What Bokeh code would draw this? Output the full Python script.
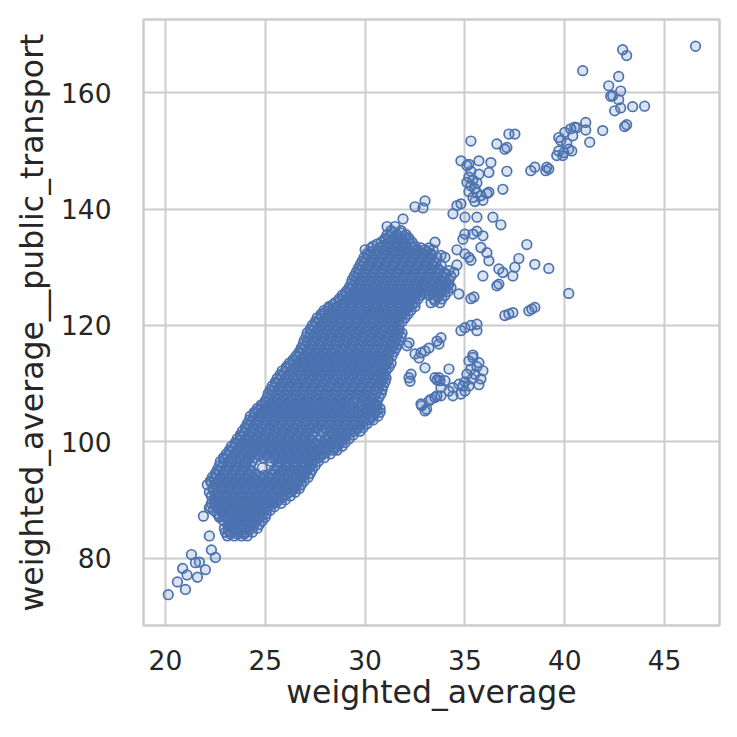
from bokeh.plotting import figure
from bokeh.models import FixedTicker, Range1d
from bokeh.embed import file_html
from bokeh.resources import INLINE

# ---- data ----
x_ticks = [20, 25, 30, 35, 40, 45]
y_ticks = [80, 100, 120, 140, 160]
x_label = "weighted_average"
y_label = "weighted_average__public_transport"

tail_points = [(20.14, 73.7), (20.6, 75.9), (21.0, 74.6), (20.86, 78.2), (21.08, 77.1),
               (21.6, 76.7), (21.3, 80.6), (21.5, 79.2), (21.7, 79.3), (22.0, 78.0),
               (22.3, 81.4), (22.5, 80.1), (22.2, 83.8), (21.9, 87.2), (22.2, 88.6),
               (22.7, 87.2)]

# dense main band, one row of x values per y level
core_rows = [
    (83.8, [23.1, 23.45, 23.8, 24.1]),
    (84.45, [23.0, 23.3, 23.65, 24.0, 24.35]),
    (85.1, [22.95, 23.35, 23.75, 24.15, 24.6]),
    (85.75, [23.15, 23.55, 23.9, 24.3, 24.7]),
    (86.4, [22.9, 23.3, 23.7, 24.05, 24.45, 24.85]),
    (87.0, [22.7, 23.1, 23.5, 23.9, 24.25, 24.65, 25.0]),
    (87.6, [22.6, 23.0, 23.4, 23.8, 24.2, 24.6, 25.05]),
    (88.2, [22.4, 22.8, 23.2, 23.6, 24.0, 24.4, 24.85, 25.25]),
    (88.8, [22.25, 22.6, 23.0, 23.45, 23.85, 24.25, 24.65, 25.05, 25.45]),
    (89.4, [22.3, 22.65, 23.05, 23.45, 23.85, 24.25, 24.65, 25.05, 25.45, 25.8]),
    (90.0, [22.45, 22.85, 23.25, 23.65, 24.05, 24.45, 24.85, 25.25, 25.65, 26.0]),
    (90.65, [22.3, 22.7, 23.1, 23.5, 23.9, 24.3, 24.7, 25.1, 25.5, 25.9, 26.25]),
    (91.3, [22.2, 22.6, 23.0, 23.4, 23.8, 24.2, 24.6, 25.0, 25.4, 25.8, 26.2, 26.5]),
    (91.95, [22.4, 22.8, 23.2, 23.6, 24.0, 24.4, 24.8, 25.2, 25.6, 26.0, 26.4, 26.7]),
    (92.6, [22.1, 22.45, 22.85, 23.25, 23.65, 24.05, 24.45, 24.85, 25.25, 25.65, 26.05, 26.45, 26.8]),
    (93.25, [22.25, 22.65, 23.05, 23.45, 23.85, 24.25, 24.65, 25.05, 25.45, 25.85, 26.25, 26.65, 26.95]),
    (93.9, [22.35, 22.75, 23.15, 23.55, 23.95, 24.35, 24.75, 25.15, 25.55, 25.95, 26.35, 26.75, 27.15]),
    (94.55, [22.5, 22.9, 23.3, 23.7, 24.1, 24.5, 25.3, 25.7, 26.1, 26.5, 26.9, 27.25]),
    (95.2, [22.6, 23.0, 23.4, 23.8, 24.2, 25.45, 25.85, 26.25, 26.65, 27.05, 27.35]),
    (95.9, [22.7, 23.1, 23.5, 23.9, 24.25, 25.6, 26.0, 26.4, 26.8, 27.2, 27.5]),
    (96.6, [22.75, 23.15, 23.55, 23.95, 24.35, 25.3, 25.7, 26.1, 26.5, 26.9, 27.3, 27.65]),
    (97.25, [22.9, 23.3, 23.7, 24.1, 24.5, 24.9, 25.25, 25.65, 26.05, 26.45, 26.85, 27.25, 27.65, 27.95]),
    (97.9, [23.05, 23.45, 23.85, 24.25, 24.65, 25.05, 25.45, 25.85, 26.25, 26.65, 27.05, 27.45, 27.85, 28.25]),
    (98.55, [23.2, 23.6, 24.0, 24.4, 24.8, 25.2, 25.6, 26.0, 26.4, 26.8, 27.2, 27.6, 28.0, 28.4, 28.6]),
    (99.2, [23.3, 23.7, 24.1, 24.5, 24.9, 25.3, 25.7, 26.1, 26.5, 26.9, 27.3, 27.7, 28.1, 28.5, 28.85]),
    (99.85, [23.5, 23.9, 24.3, 24.7, 25.1, 25.5, 25.9, 26.3, 26.7, 27.1, 27.5, 27.9, 28.3, 28.7, 29.0]),
    (100.5, [23.6, 24.0, 24.4, 24.8, 25.2, 25.6, 26.0, 26.4, 26.8, 27.2, 28.0, 28.4, 28.8, 29.2]),
    (101.15, [23.75, 24.15, 24.55, 24.95, 25.35, 25.75, 26.15, 26.55, 26.95, 27.35, 28.2, 28.6, 29.0, 29.4]),
    (101.8, [23.85, 24.25, 24.65, 25.05, 25.45, 25.85, 26.25, 26.65, 27.05, 27.45, 27.85, 28.25, 28.65, 29.05, 29.45, 29.75]),
    (102.45, [24.0, 24.4, 24.8, 25.2, 25.6, 26.0, 26.4, 26.8, 27.2, 27.6, 28.0, 28.4, 28.8, 29.2, 29.6, 29.9]),
    (103.1, [24.1, 24.5, 24.9, 25.3, 25.7, 26.1, 26.5, 26.9, 27.3, 27.7, 28.1, 28.5, 28.9, 29.3, 29.7, 30.1]),
    (103.75, [24.2, 24.6, 25.0, 25.4, 25.8, 26.2, 26.6, 27.0, 27.4, 27.8, 28.2, 28.6, 29.0, 29.4, 29.8, 30.2, 30.4]),
    (104.4, [24.25, 24.65, 25.05, 25.45, 25.85, 26.25, 26.65, 27.05, 27.45, 27.85, 28.25, 28.65, 29.05, 29.45, 29.85, 30.25, 30.65]),
    (105.05, [24.45, 24.85, 25.25, 25.65, 26.05, 26.45, 26.85, 27.25, 27.65, 28.05, 28.45, 28.85, 29.25, 29.65, 30.05, 30.45, 30.75]),
    (105.7, [24.6, 25.0, 25.4, 25.8, 26.2, 26.6, 27.0, 27.4, 27.8, 28.2, 28.6, 29.0, 29.5, 30.0, 30.4, 30.75]),
    (106.35, [24.8, 25.2, 25.6, 26.0, 26.4, 26.8, 27.2, 27.6, 28.0, 28.4, 28.8, 29.2, 29.8, 30.2, 30.6]),
    (107.0, [25.0, 25.4, 25.8, 26.2, 26.6, 27.0, 27.4, 27.8, 28.2, 28.6, 29.0, 29.4, 29.8, 30.2, 30.6]),
    (107.65, [25.1, 25.5, 25.9, 26.3, 26.7, 27.1, 27.5, 27.9, 28.3, 28.7, 29.1, 29.5, 29.9, 30.3, 30.7]),
    (108.3, [25.15, 25.55, 25.95, 26.35, 26.75, 27.15, 27.55, 27.95, 28.35, 28.75, 29.15, 29.55, 29.95, 30.35, 30.8]),
    (108.95, [25.25, 25.65, 26.05, 26.45, 26.85, 27.25, 27.65, 28.05, 28.45, 28.85, 29.25, 29.65, 30.05, 30.45, 30.85]),
    (109.6, [25.35, 25.75, 26.15, 26.55, 26.95, 27.35, 27.75, 28.15, 28.55, 28.95, 29.35, 29.75, 30.15, 30.55, 30.9]),
    (110.25, [25.5, 25.9, 26.3, 26.7, 27.1, 27.5, 27.9, 28.3, 28.7, 29.1, 29.5, 29.9, 30.3, 30.7, 31.0]),
    (110.9, [25.6, 26.0, 26.4, 26.8, 27.2, 27.6, 28.0, 28.4, 28.8, 29.2, 29.6, 30.0, 30.4, 30.8, 31.05]),
    (111.55, [25.75, 26.15, 26.55, 26.95, 27.35, 27.75, 28.15, 28.55, 28.95, 29.35, 29.75, 30.15, 30.55, 30.95]),
    (112.2, [25.85, 26.3, 26.7, 27.1, 27.5, 27.9, 28.3, 28.7, 29.1, 29.5, 29.9, 30.3, 30.7, 31.05]),
    (112.85, [26.05, 26.45, 26.85, 27.25, 27.65, 28.05, 28.45, 28.85, 29.25, 29.65, 30.05, 30.45, 30.85, 31.2]),
    (113.5, [26.2, 26.6, 27.0, 27.4, 27.8, 28.2, 28.6, 29.0, 29.4, 29.8, 30.2, 30.6, 31.0, 31.3]),
    (114.15, [26.4, 26.8, 27.2, 27.6, 28.0, 28.4, 28.8, 29.2, 29.6, 30.0, 30.4, 30.8, 31.15]),
    (114.8, [26.55, 26.95, 27.35, 27.75, 28.15, 28.55, 28.95, 29.35, 29.75, 30.15, 30.55, 30.95, 31.35]),
    (115.45, [26.7, 27.1, 27.5, 27.9, 28.3, 28.7, 29.1, 29.5, 29.9, 30.3, 30.7, 31.1, 31.45]),
    (116.1, [26.8, 27.2, 27.6, 28.0, 28.4, 28.8, 29.2, 29.6, 30.0, 30.4, 30.8, 31.2, 31.55]),
    (116.75, [26.9, 27.3, 27.7, 28.1, 28.5, 28.9, 29.3, 29.7, 30.1, 30.5, 30.9, 31.3, 31.65]),
    (117.4, [26.95, 27.35, 27.75, 28.15, 28.55, 28.95, 29.35, 29.75, 30.15, 30.55, 30.95, 31.35, 31.7]),
    (118.05, [27.05, 27.45, 27.85, 28.25, 28.65, 29.05, 29.45, 29.85, 30.25, 30.65, 31.05, 31.45, 31.8]),
    (118.7, [27.1, 27.5, 27.9, 28.3, 28.7, 29.1, 29.5, 29.9, 30.3, 30.7, 31.1, 31.5, 31.85]),
    (119.35, [27.25, 27.65, 28.05, 28.45, 28.85, 29.25, 29.65, 30.05, 30.45, 30.85, 31.25, 31.65]),
    (120.0, [27.35, 27.75, 28.15, 28.55, 28.95, 29.35, 29.75, 30.15, 30.55, 30.95, 31.35, 31.7]),
    (120.65, [27.5, 27.9, 28.3, 28.7, 29.1, 29.5, 29.9, 30.3, 30.7, 31.1, 31.5, 31.85]),
    (121.3, [27.6, 28.0, 28.4, 28.8, 29.2, 29.6, 30.0, 30.4, 30.8, 31.2, 31.6, 32.0]),
    (121.95, [27.8, 28.2, 28.6, 29.0, 29.4, 29.8, 30.2, 30.6, 31.0, 31.4, 31.8, 32.15]),
    (122.6, [27.95, 28.35, 28.75, 29.15, 29.55, 29.95, 30.35, 30.75, 31.15, 31.55, 31.95, 32.3]),
    (123.25, [28.2, 28.6, 29.0, 29.4, 29.8, 30.2, 30.6, 31.0, 31.4, 31.8, 32.2, 32.5]),
    (123.9, [28.5, 28.9, 29.3, 29.7, 30.1, 30.5, 30.9, 31.3, 31.7, 32.1, 32.5, 33.3, 33.75]),
    (124.55, [28.7, 29.1, 29.5, 29.9, 30.3, 30.7, 31.1, 31.5, 31.9, 32.3, 32.65, 33.45, 33.85]),
    (125.2, [28.85, 29.25, 29.65, 30.05, 30.45, 30.85, 31.25, 31.65, 32.05, 32.45, 32.8, 33.2, 33.6, 34.0]),
    (125.85, [29.05, 29.45, 29.85, 30.25, 30.65, 31.05, 31.45, 31.85, 32.25, 32.65, 33.0, 33.4, 33.8, 34.15]),
    (126.5, [29.2, 29.6, 30.0, 30.4, 30.8, 31.2, 31.6, 32.0, 32.4, 32.8, 33.2, 33.6, 34.0, 34.3]),
    (127.15, [29.3, 29.7, 30.1, 30.5, 30.9, 31.3, 31.7, 32.1, 32.5, 32.9, 33.3, 33.7, 34.05]),
    (127.8, [29.35, 29.75, 30.15, 30.55, 30.95, 31.35, 31.75, 32.15, 32.55, 32.95, 33.35, 33.75, 34.2]),
    (128.45, [29.45, 29.85, 30.25, 30.65, 31.05, 31.45, 31.85, 32.25, 32.65, 33.05, 33.45, 33.85, 34.3]),
    (129.1, [29.55, 29.95, 30.35, 30.75, 31.15, 31.55, 31.95, 32.35, 32.75, 33.15, 33.55, 33.95, 34.45]),
    (129.75, [29.65, 30.05, 30.45, 30.85, 31.25, 31.65, 32.05, 32.45, 32.85, 33.25, 33.65]),
    (130.4, [29.75, 30.15, 30.55, 30.95, 31.35, 31.75, 32.15, 32.55, 32.95, 33.35, 33.8, 34.6]),
    (131.05, [29.85, 30.25, 30.65, 31.05, 31.45, 31.85, 32.25, 32.65, 33.05, 33.45]),
    (131.7, [29.95, 30.35, 30.75, 31.15, 31.55, 31.95, 32.35, 32.75, 33.15, 33.6, 34.0]),
    (132.35, [30.1, 30.5, 30.9, 31.3, 31.7, 32.1, 32.5, 32.9, 33.3]),
    (133.0, [30.0, 30.6, 31.0, 31.4, 31.8, 32.2, 32.6, 33.0, 33.4]),
    (133.65, [30.4, 30.85, 31.25, 31.65, 32.05, 32.5]),
    (134.3, [30.8, 31.2, 31.6, 32.0, 32.35, 33.5]),
    (134.95, [31.0, 31.4, 31.8, 32.2]),
    (135.6, [31.1, 31.6, 32.05]),
    (136.3, [31.3, 31.8]),
    (137.0, [31.1, 31.5]),
    (138.3, [31.9]),
]

# further points of the same band, lying between the rows above
core_rows_between = [
    (84.13, [23.25, 23.6, 23.95]),
    (84.78, [23.15, 23.5, 23.8, 24.2]),
    (85.43, [23.15, 23.55, 23.95, 24.4]),
    (86.08, [23.35, 23.7, 24.1, 24.5]),
    (86.73, [23.1, 23.5, 23.9, 24.25, 24.65]),
    (87.33, [22.9, 23.3, 23.7, 24.1, 24.45, 24.85]),
    (87.93, [22.8, 23.2, 23.6, 24.0, 24.4, 24.8]),
    (88.53, [22.6, 23.0, 23.4, 23.8, 24.2, 24.6, 25.05]),
    (89.13, [22.45, 22.8, 23.2, 23.65, 24.05, 24.45, 24.85, 25.25]),
    (89.73, [22.5, 22.85, 23.25, 23.65, 24.05, 24.45, 24.85, 25.25, 25.6]),
    (90.33, [22.65, 23.05, 23.45, 23.85, 24.25, 24.65, 25.05, 25.45, 25.85]),
    (90.98, [22.5, 22.9, 23.3, 23.7, 24.1, 24.5, 24.9, 25.3, 25.7, 26.05]),
    (91.63, [22.4, 22.8, 23.2, 23.6, 24.0, 24.4, 24.8, 25.2, 25.6, 26.0, 26.35]),
    (92.28, [22.6, 23.0, 23.4, 23.8, 24.2, 24.6, 25.0, 25.4, 25.8, 26.2, 26.55]),
    (92.93, [22.3, 22.65, 23.05, 23.45, 23.85, 24.25, 24.65, 25.05, 25.45, 25.85, 26.25, 26.6]),
    (93.58, [22.45, 22.85, 23.25, 23.65, 24.05, 24.45, 24.85, 25.25, 25.65, 26.05, 26.45, 26.8]),
    (94.23, [22.55, 22.95, 23.35, 23.75, 24.15, 24.55, 24.95, 25.35, 25.75, 26.15, 26.55, 26.95]),
    (94.88, [22.7, 23.1, 23.5, 23.9, 24.3, 25.5, 25.9, 26.3, 26.7, 27.05]),
    (95.53, [22.8, 23.2, 23.6, 24.0, 24.85, 25.65, 26.05, 26.45, 26.85, 27.2]),
    (96.23, [22.9, 23.3, 23.7, 24.05, 25.8, 26.2, 26.6, 27.0, 27.35]),
    (96.93, [22.95, 23.35, 23.75, 24.15, 25.5, 25.9, 26.3, 26.7, 27.1, 27.45]),
    (97.58, [23.1, 23.5, 23.9, 24.3, 24.7, 25.05, 25.45, 25.85, 26.25, 26.65, 27.05, 27.45, 27.8]),
    (98.23, [23.25, 23.65, 24.05, 24.45, 24.85, 25.25, 25.65, 26.05, 26.45, 26.85, 27.25, 27.65, 28.05]),
    (98.88, [23.4, 23.8, 24.2, 24.6, 25.0, 25.4, 25.8, 26.2, 26.6, 27.0, 27.4, 27.8, 28.2, 28.5]),
    (99.53, [23.5, 23.9, 24.3, 24.7, 25.1, 25.5, 25.9, 26.3, 26.7, 27.1, 27.5, 27.9, 28.3, 28.65]),
    (100.18, [23.7, 24.1, 24.5, 24.9, 25.3, 25.7, 26.1, 26.5, 26.9, 27.3, 27.7, 28.1, 28.5, 28.85]),
    (100.83, [23.8, 24.2, 24.6, 25.0, 25.4, 25.8, 26.2, 26.6, 27.0, 28.2, 28.6, 29.0]),
    (101.48, [23.95, 24.35, 24.75, 25.15, 25.55, 25.95, 26.35, 26.75, 27.15, 28.4, 28.8, 29.2]),
    (102.13, [24.05, 24.45, 24.85, 25.25, 25.65, 26.05, 26.45, 26.85, 27.25, 27.65, 28.05, 28.45, 28.85, 29.25, 29.6]),
    (102.78, [24.2, 24.6, 25.0, 25.4, 25.8, 26.2, 26.6, 27.0, 27.4, 27.8, 28.2, 28.6, 29.0, 29.4, 29.75]),
    (103.43, [24.3, 24.7, 25.1, 25.5, 25.9, 26.3, 26.7, 27.1, 27.5, 27.9, 28.3, 28.7, 29.1, 29.5, 29.9]),
    (104.08, [24.4, 24.8, 25.2, 25.6, 26.0, 26.4, 26.8, 27.2, 27.6, 28.0, 28.4, 28.8, 29.2, 29.6, 30.0, 30.3]),
    (104.73, [24.45, 24.85, 25.25, 25.65, 26.05, 26.45, 26.85, 27.25, 27.65, 28.05, 28.45, 28.85, 29.25, 29.65, 30.05, 30.45]),
    (105.38, [24.65, 25.05, 25.45, 25.85, 26.25, 26.65, 27.05, 27.45, 27.85, 28.25, 28.65, 29.05, 29.45, 29.85, 30.25, 30.6]),
    (106.03, [24.8, 25.2, 25.6, 26.0, 26.4, 26.8, 27.2, 27.6, 28.0, 28.4, 28.8, 29.25, 29.75, 30.2, 30.55]),
    (106.68, [25.0, 25.4, 25.8, 26.2, 26.6, 27.0, 27.4, 27.8, 28.2, 28.6, 29.0, 30.0, 30.4]),
    (107.33, [25.2, 25.6, 26.0, 26.4, 26.8, 27.2, 27.6, 28.0, 28.4, 28.8, 29.2, 29.6, 30.0, 30.4]),
    (107.98, [25.3, 25.7, 26.1, 26.5, 26.9, 27.3, 27.7, 28.1, 28.5, 28.9, 29.3, 29.7, 30.1, 30.5]),
    (108.63, [25.35, 25.75, 26.15, 26.55, 26.95, 27.35, 27.75, 28.15, 28.55, 28.95, 29.35, 29.75, 30.15, 30.6]),
    (109.28, [25.45, 25.85, 26.25, 26.65, 27.05, 27.45, 27.85, 28.25, 28.65, 29.05, 29.45, 29.85, 30.25, 30.65]),
    (109.93, [25.55, 25.95, 26.35, 26.75, 27.15, 27.55, 27.95, 28.35, 28.75, 29.15, 29.55, 29.95, 30.35, 30.75]),
    (110.58, [25.7, 26.1, 26.5, 26.9, 27.3, 27.7, 28.1, 28.5, 28.9, 29.3, 29.7, 30.1, 30.5, 30.85]),
    (111.23, [25.8, 26.2, 26.6, 27.0, 27.4, 27.8, 28.2, 28.6, 29.0, 29.4, 29.8, 30.2, 30.6, 30.95]),
    (111.88, [25.95, 26.35, 26.75, 27.15, 27.55, 27.95, 28.35, 28.75, 29.15, 29.55, 29.95, 30.35, 30.75]),
    (112.53, [26.05, 26.5, 26.9, 27.3, 27.7, 28.1, 28.5, 28.9, 29.3, 29.7, 30.1, 30.5, 30.9]),
    (113.18, [26.25, 26.65, 27.05, 27.45, 27.85, 28.25, 28.65, 29.05, 29.45, 29.85, 30.25, 30.65, 31.05]),
    (113.83, [26.4, 26.8, 27.2, 27.6, 28.0, 28.4, 28.8, 29.2, 29.6, 30.0, 30.4, 30.8, 31.15]),
    (114.48, [26.6, 27.0, 27.4, 27.8, 28.2, 28.6, 29.0, 29.4, 29.8, 30.2, 30.6, 31.0]),
    (115.13, [26.75, 27.15, 27.55, 27.95, 28.35, 28.75, 29.15, 29.55, 29.95, 30.35, 30.75, 31.15]),
    (115.78, [26.9, 27.3, 27.7, 28.1, 28.5, 28.9, 29.3, 29.7, 30.1, 30.5, 30.9, 31.3]),
    (116.43, [27.0, 27.4, 27.8, 28.2, 28.6, 29.0, 29.4, 29.8, 30.2, 30.6, 31.0, 31.4]),
    (117.08, [27.1, 27.5, 27.9, 28.3, 28.7, 29.1, 29.5, 29.9, 30.3, 30.7, 31.1, 31.5]),
    (117.73, [27.15, 27.55, 27.95, 28.35, 28.75, 29.15, 29.55, 29.95, 30.35, 30.75, 31.15, 31.55]),
    (118.38, [27.25, 27.65, 28.05, 28.45, 28.85, 29.25, 29.65, 30.05, 30.45, 30.85, 31.25, 31.6]),
    (119.03, [27.3, 27.7, 28.1, 28.5, 28.9, 29.3, 29.7, 30.1, 30.5, 30.9, 31.3, 31.7]),
    (119.68, [27.45, 27.85, 28.25, 28.65, 29.05, 29.45, 29.85, 30.25, 30.65, 31.05, 31.45]),
    (120.33, [27.55, 27.95, 28.35, 28.75, 29.15, 29.55, 29.95, 30.35, 30.75, 31.15, 31.5]),
    (120.98, [27.7, 28.1, 28.5, 28.9, 29.3, 29.7, 30.1, 30.5, 30.9, 31.3, 31.7]),
    (121.63, [27.8, 28.2, 28.6, 29.0, 29.4, 29.8, 30.2, 30.6, 31.0, 31.4, 31.8]),
    (122.28, [28.0, 28.4, 28.8, 29.2, 29.6, 30.0, 30.4, 30.8, 31.2, 31.6, 32.0]),
    (122.93, [28.15, 28.55, 28.95, 29.35, 29.75, 30.15, 30.55, 30.95, 31.35, 31.75, 32.1]),
    (123.58, [28.4, 28.8, 29.2, 29.6, 30.0, 30.4, 30.8, 31.2, 31.6, 32.0, 32.35]),
    (124.23, [28.7, 29.1, 29.5, 29.9, 30.3, 30.7, 31.1, 31.5, 31.9, 32.3, 33.5]),
    (124.88, [28.9, 29.3, 29.7, 30.1, 30.5, 30.9, 31.3, 31.7, 32.1, 32.5, 33.65]),
    (125.53, [29.05, 29.45, 29.85, 30.25, 30.65, 31.05, 31.45, 31.85, 32.25, 32.6, 33.0, 33.4, 33.8]),
    (126.18, [29.25, 29.65, 30.05, 30.45, 30.85, 31.25, 31.65, 32.05, 32.45, 32.8, 33.2, 33.6, 34.0]),
    (126.83, [29.4, 29.8, 30.2, 30.6, 31.0, 31.4, 31.8, 32.2, 32.6, 33.0, 33.4, 33.8, 34.15]),
    (127.48, [29.5, 29.9, 30.3, 30.7, 31.1, 31.5, 31.9, 32.3, 32.7, 33.1, 33.5, 33.9]),
    (128.13, [29.55, 29.95, 30.35, 30.75, 31.15, 31.55, 31.95, 32.35, 32.75, 33.15, 33.55, 33.95]),
    (128.78, [29.65, 30.05, 30.45, 30.85, 31.25, 31.65, 32.05, 32.45, 32.85, 33.25, 33.65, 34.05]),
    (129.43, [29.75, 30.15, 30.55, 30.95, 31.35, 31.75, 32.15, 32.55, 32.95, 33.35, 33.75, 34.2]),
    (130.08, [29.85, 30.25, 30.65, 31.05, 31.45, 31.85, 32.25, 32.65, 33.05, 33.45]),
    (130.73, [29.95, 30.35, 30.75, 31.15, 31.55, 31.95, 32.35, 32.75, 33.15, 33.55]),
    (131.38, [30.05, 30.45, 30.85, 31.25, 31.65, 32.05, 32.45, 32.85, 33.25]),
    (132.03, [30.15, 30.55, 30.95, 31.35, 31.75, 32.15, 32.55, 32.95, 33.35, 33.8]),
    (132.68, [30.3, 30.7, 31.1, 31.5, 31.9, 32.3, 32.7, 33.1]),
    (133.33, [30.3, 30.8, 31.2, 31.6, 32.0, 32.4, 32.8, 33.2]),
    (133.98, [30.6, 31.05, 31.45, 31.85, 32.25]),
    (134.63, [31.0, 31.4, 31.8, 32.15]),
    (135.28, [31.2, 31.6, 32.0]),
    (135.93, [31.35, 31.8]),
]

branch_points = [(32.1, 116.5), (32.2, 117.0), (32.5, 115.1), (32.8, 115.3), (32.7, 114.4),
                 (33.0, 115.6), (33.2, 116.1), (33.6, 117.3), (33.8, 117.9), (33.7, 116.8),
                 (32.2, 111.0), (32.3, 111.6), (32.25, 110.4), (33.0, 112.7), (33.7, 111.0),
                 (33.6, 110.6), (32.8, 106.5), (33.2, 107.0), (33.5, 107.6)]

lower_right_points = [(32.83, 106.2), (33.08, 105.6), (33.0, 105.3), (33.3, 107.3), (33.6, 107.9),
                      (33.8, 107.9), (33.5, 111.0), (33.75, 110.5), (34.0, 110.5), (34.2, 112.5),
                      (33.8, 109.3), (34.2, 108.7), (34.4, 109.3), (34.7, 109.9), (34.9, 109.6),
                      (34.4, 107.9), (34.8, 108.2), (35.0, 108.7), (35.2, 113.9), (35.4, 114.5),
                      (35.7, 113.6), (35.9, 112.2), (35.3, 112.5), (35.5, 111.6), (35.8, 110.8),
                      (35.1, 111.6), (35.35, 110.8), (35.4, 114.9), (35.6, 112.9), (35.2, 109.6),
                      (35.7, 109.8), (35.0, 110.3)]

mid_right_points = [(34.2, 127.2), (34.7, 125.4), (35.3, 124.6), (35.45, 124.9), (36.6, 126.8),
                    (40.2, 125.5), (37.0, 121.7), (37.2, 121.95), (37.4, 122.2), (38.2, 122.5),
                    (38.35, 122.8), (38.5, 123.1), (34.8, 119.1), (35.0, 119.6), (35.6, 120.2),
                    (35.6, 119.1), (35.3, 120.0), (38.1, 133.9), (37.7, 131.5), (37.5, 130.0),
                    (38.5, 130.5), (39.2, 129.8), (36.7, 129.7), (36.9, 129.1), (37.4, 128.5),
                    (36.7, 127.1), (35.9, 128.5), (35.2, 131.7), (35.3, 131.2), (35.8, 133.4),
                    (36.1, 132.5), (36.2, 131.1), (34.6, 133.0), (35.0, 132.3), (34.9, 134.8),
                    (35.0, 135.7), (35.4, 135.7), (35.9, 135.4), (35.6, 136.2)]

upper_mid_points = [(34.4, 139.2), (35.0, 138.6), (35.6, 138.6), (36.4, 138.6), (36.8, 137.3),
                    (34.6, 140.6), (34.8, 140.9), (33.0, 141.4), (32.5, 140.4), (32.9, 140.2),
                    (35.1, 147.5), (35.3, 146.5), (35.2, 145.5), (35.4, 145.0), (35.6, 144.5),
                    (35.3, 144.0), (35.5, 143.5), (35.2, 143.0), (35.6, 142.8), (35.4, 142.0),
                    (35.8, 142.3), (35.5, 141.3), (35.9, 141.5), (36.1, 142.7), (35.7, 146.0),
                    (35.1, 144.6), (34.8, 148.3), (35.2, 147.7), (35.7, 148.3), (36.3, 148.0),
                    (36.2, 146.3), (37.1, 146.5), (35.3, 151.7), (37.2, 152.9), (37.5, 152.9),
                    (36.6, 151.2), (37.0, 150.3), (37.1, 150.6), (36.9, 143.4), (36.2, 142.9),
                    (38.3, 146.6), (38.5, 147.2), (39.05, 146.6), (39.2, 146.9)]

upper_right_points = [(39.1, 147.2), (39.6, 149.2), (39.9, 149.2), (39.7, 150.0), (39.95, 149.7),
                      (40.2, 150.3), (40.35, 150.0), (39.8, 151.8), (40.1, 151.3), (39.7, 152.3),
                      (40.0, 153.2), (40.4, 152.6), (40.3, 153.8), (40.6, 154.0), (40.5, 154.1),
                      (41.05, 154.9), (41.05, 153.6), (41.9, 153.5), (41.25, 151.5), (40.9, 163.8),
                      (42.7, 162.8), (42.2, 161.2), (42.8, 160.3), (42.3, 159.4), (42.4, 159.5),
                      (42.7, 158.8), (42.5, 156.9), (42.8, 157.4), (43.4, 157.6), (44.0, 157.7),
                      (43.0, 154.2), (43.1, 154.5), (42.9, 167.4), (43.1, 166.4), (46.55, 168.0)]

# ---- build the table ----
xs, ys = [], []
for rows in (core_rows, core_rows_between):
    for yv, row in rows:
        for xv in row:
            xs.append(xv)
            ys.append(yv)
for group in (tail_points, branch_points, lower_right_points, mid_right_points,
              upper_mid_points, upper_right_points):
    for xv, yv in group:
        xs.append(xv)
        ys.append(yv)

TEXT = "#262626"
GRID = "#cccccc"
BLUE = "#4c72b0"
FONT = "DejaVu Sans"

p = figure(frame_width=576, frame_height=606,
           min_border_left=143, min_border_right=10, min_border_top=19, min_border_bottom=104,
           x_range=Range1d(18.9, 47.75), y_range=Range1d(68.4, 172.6),
           output_backend="svg", toolbar_location=None,
           background_fill_color="white", border_fill_color="white")

p.scatter(xs, ys, size=9.6, marker="circle", fill_color=BLUE, fill_alpha=0.2,
          line_color=BLUE, line_width=1.7)

p.xaxis.ticker = FixedTicker(ticks=x_ticks)
p.yaxis.ticker = FixedTicker(ticks=y_ticks)
p.xaxis.axis_label = x_label
p.yaxis.axis_label = y_label

for ax in (p.xaxis[0], p.yaxis[0]):
    ax.axis_line_color = None
    ax.major_tick_line_color = None
    ax.minor_tick_line_color = None
    ax.major_label_text_font = FONT
    ax.major_label_text_font_size = "26.5px"
    ax.major_label_text_color = TEXT
    ax.axis_label_text_font = FONT
    ax.axis_label_text_font_size = "31.5px"
    ax.axis_label_text_font_style = "normal"
    ax.axis_label_text_color = TEXT

p.xaxis.major_label_standoff = 18
p.xaxis.axis_label_standoff = 1
p.yaxis.major_label_standoff = 26
p.yaxis.axis_label_standoff = 8

p.grid.grid_line_color = GRID
p.grid.grid_line_width = 2
p.outline_line_color = GRID
p.outline_line_width = 2.5

open("out.html", "w").write(file_html(p, INLINE))
